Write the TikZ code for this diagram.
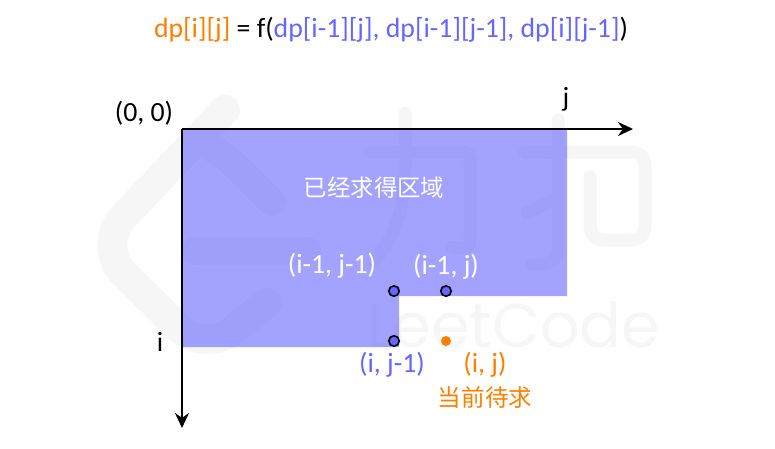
\documentclass[tikz,border=0pt]{standalone}
\usepackage{fontspec}
\setmainfont{Carlito}
\newfontfamily\cjk{Noto Sans CJK SC}
\newfontfamily\wm{Poppins}
\usetikzlibrary{arrows.meta}
\definecolor{blu}{HTML}{6666FF}
\definecolor{org}{HTML}{FF8000}
\definecolor{wmk}{HTML}{F6F6F6}
\tikzset{
  lbl/.style={inner sep=0pt,font=\fontsize{27.8}{28}\selectfont},
  cjklbl/.style={inner sep=0pt,font=\cjk\fontsize{23.4}{24}\selectfont},
  axis/.style={draw=black,line width=1.6pt,-{Stealth[length=15pt,width=14pt]}},
  wstroke/.style={draw=wmk,line cap=round,line join=round},
  dot/.style={circle,inner sep=0pt,minimum size=10.5pt,fill=blu,draw=black,line width=1.6pt},
}
\begin{document}
\begin{tikzpicture}[x=1pt,y=-1pt]
\useasboundingbox (0,0) rectangle (775,448);
% watermark
\draw[wstroke,line width=30pt] (225,110) -- (125,215) .. controls (108,233) and (108,258) .. (125,275) -- (178,327) .. controls (195,343) and (220,343) .. (237,327) -- (267,303);
\draw[wstroke,line width=28pt] (215,150) .. controls (225,155) and (240,170) .. (272,202);
\draw[wstroke,line width=28pt] (195,251) -- (307,251);
\draw[wstroke,line width=13pt] (370,152) -- (462,152) .. controls (470,152) and (470,156) .. (470,162) -- (470,240) .. controls (470,250) and (462,250) .. (452,247);
\draw[wstroke,line width=13pt] (405,113) -- (405,160) .. controls (405,210) and (395,240) .. (372,262);
\draw[wstroke,line width=13pt] (525,152) -- (565,152);
\draw[wstroke,line width=13pt] (558,120) -- (558,250) .. controls (558,262) and (545,266) .. (532,265);
\draw[wstroke,line width=13pt] (527,213) -- (557,198);
\draw[wstroke,line width=13pt] (567,152) -- (630,152) .. controls (640,152) and (645,157) .. (645,167) -- (645,225) .. controls (645,235) and (640,240) .. (630,240) -- (605,240) .. controls (595,240) and (590,235) .. (590,225) -- (590,177);
\node[anchor=base west,inner sep=0pt,text=wmk,font=\wm\fontsize{62}{62}\selectfont] (wmtext) at (366,347) {LeetCode};
% area
\fill[blu,fill opacity=0.6] (182,129) -- (567,129) -- (567,296) -- (399,296) -- (399,347) -- (182,347) -- cycle;
% axes
\coordinate (origin) at (182,129);
\coordinate (jend) at (633,129);
\coordinate (iend) at (182,428);
\draw[axis] (origin) -- (jend);
\draw[axis] (origin) -- (iend);
% dots
\node[dot] (a) at (394,291) {};
\node[dot] (b) at (446,291) {};
\node[dot] (c) at (394,341) {};
\node[circle,inner sep=0pt,minimum size=10pt,fill=org] (d) at (446,341) {};
% labels
\node[lbl] (title) at (391,30) {\textcolor{org}{dp[i][j]} = f(\textcolor{blu}{dp[i-1][j], dp[i-1][j-1], dp[i][j-1]})};
\node[lbl] (zero) at (144,113) {(0, 0)};
\node[lbl] (jl) at (566,99) {j};
\node[lbl] (il) at (160,342) {i};
\node[cjklbl,text=white] (done) at (374,188) {已经求得区域};
\node[lbl,text=white] (l1) at (332,266) {(i-1, j-1)};
\node[lbl,text=white] (l2) at (446,267) {(i-1, j)};
\node[lbl,text=blu] (l3) at (392,365) {(i, j-1)};
\node[lbl,text=org] (l4) at (485,365) {(i, j)};
\node[inner sep=0pt,text=org,font=\cjk\fontsize{23.6}{24}\selectfont] (now) at (485,397) {当前待求};
\end{tikzpicture}
\end{document}
